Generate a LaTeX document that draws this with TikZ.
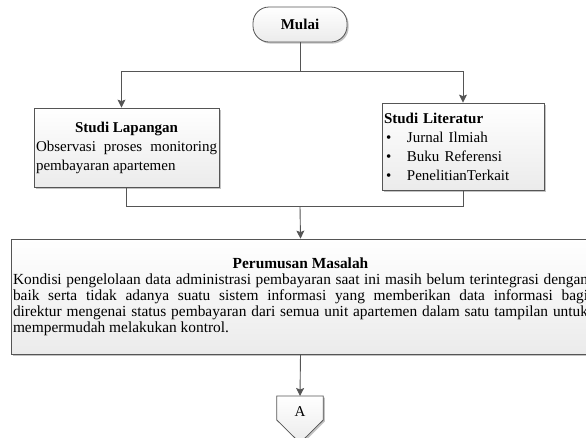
\documentclass[tikz,border=0pt]{standalone}
\usepackage{fontspec}
\setmainfont{Liberation Serif}
\usetikzlibrary{arrows.meta,shadows,calc,backgrounds}
\setlength{\parindent}{0pt}
\definecolor{edge}{HTML}{555555}
\definecolor{wire}{HTML}{555555}
\definecolor{shade}{HTML}{EBEBEB}
\definecolor{shadowgray}{HTML}{B4B4B4}
\begin{document}
\begin{tikzpicture}[x=1pt,y=-1pt,
  panel/.style={draw=edge, line width=0.8pt, top color=white, bottom color=shade,
    drop shadow={shadow xshift=1.6pt, shadow yshift=-1.6pt, fill=shadowgray, opacity=0.8}},
  wirestyle/.style={draw=wire, line width=0.9pt},
  arr/.style={wirestyle, -{Stealth[length=8pt,width=8pt,inset=1.5pt]}},
  body/.style={font=\fontsize{15}{19}\selectfont}]
\useasboundingbox (0,0) rectangle (586,437);

% start terminal
\node[panel, rounded corners=16pt, minimum width=94pt, minimum height=35pt,
  font=\fontsize{15}{18}\selectfont\bfseries] (mulai) at (300,24.5) {Mulai};

% field study
\node[panel, body, text width=181pt, inner xsep=2pt, minimum width=185pt,
  minimum height=79pt, align=justify] (lap) at (126.5,147.5)
  {{\centering\bfseries Studi Lapangan\par}Observasi proses monitoring pembayaran apartemen};

% literature study
\node[panel, body, text width=158pt, inner xsep=2pt, minimum width=162pt,
  minimum height=87pt, align=left] (lit) at (463,146.5)
  {\textbf{Studi Literatur}\\
   \hspace*{2pt}\makebox[21pt][l]{\textbullet}Jurnal Ilmiah\\
   \hspace*{2pt}\makebox[21pt][l]{\textbullet}Buku Referensi\\
   \hspace*{2pt}\makebox[21pt][l]{\textbullet}PenelitianTerkait};

% problem statement
\node[panel, font=\fontsize{15.4}{16}\selectfont, text width=575pt, inner xsep=2pt,
  minimum width=579pt, minimum height=115pt, align=justify] (rumusan) at (300.5,296.5)
  {{\centering\bfseries Perumusan Masalah\par}Kondisi pengelolaan data administrasi pembayaran saat ini masih belum terintegrasi dengan\linebreak
   baik serta tidak adanya suatu sistem informasi yang memberikan data informasi bagi\linebreak
   direktur mengenai status pembayaran dari semua unit apartemen dalam satu tampilan untuk\linebreak
   mempermudah melakukan kontrol.};

% off-page connector
\node[minimum width=46pt, minimum height=31pt, anchor=north, inner sep=0pt,
  font=\fontsize{15}{18}\selectfont] (conA) at (300,396) {A};
\begin{pgfonlayer}{background}
  \path[panel] (conA.north west) -- (conA.north east) -- ($(conA.north east)+(0,24)$)
    -- ($(conA.north)+(0,47)$) -- ($(conA.north west)+(0,24)$) -- cycle;
\end{pgfonlayer}

% connectors
\coordinate (split) at (300,71);
\coordinate (join) at (300,206.5);
\draw[wirestyle] (mulai.south) -- (split);
\draw[arr] (split) -| ([xshift=-5pt]lap.north);
\draw[arr] (split) -| (lit.north);
\draw[wirestyle] (lap.south) |- (join);
\draw[wirestyle] (lit.south) |- (join);
\draw[arr] (join) -- (rumusan.north);
\draw[arr] (rumusan.south) -- (conA.north);
\end{tikzpicture}
\end{document}
